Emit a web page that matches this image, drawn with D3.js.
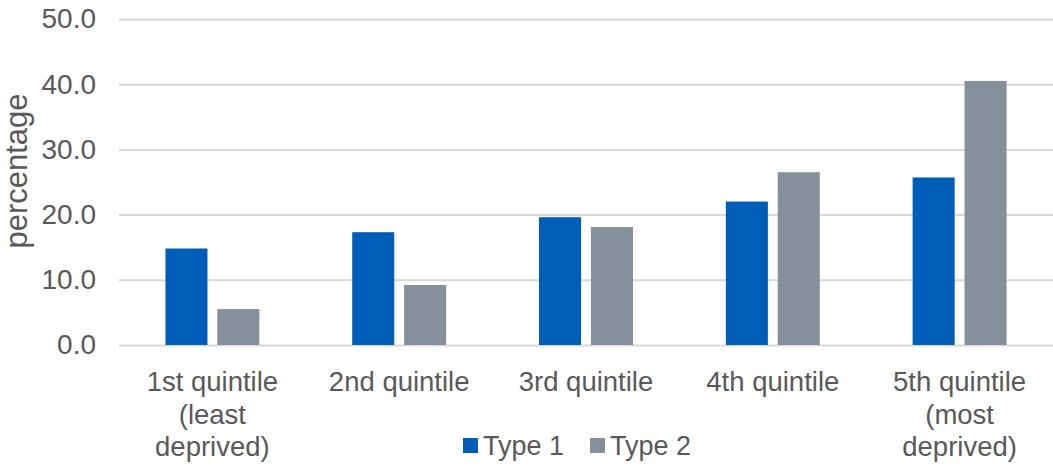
<!DOCTYPE html>
<html>
<head>
<meta charset="utf-8">
<script src="https://cdn.jsdelivr.net/npm/d3@7/dist/d3.min.js"></script>
<style>
  html, body { margin: 0; padding: 0; background: #ffffff; }
  svg { display: block; font-family: "Liberation Sans", Arial, sans-serif; }
</style>
</head>
<body>
<svg id="chart" width="1053" height="469"></svg>
<script>
// Deprivation quintiles (category axis, one line per row of the label)
const categories = [
  ["1st quintile", "(least", "deprived)"],
  ["2nd quintile"],
  ["3rd quintile"],
  ["4th quintile"],
  ["5th quintile", "(most", "deprived)"]
];
const seriesNames = ["Type 1", "Type 2"];
const type1Values = [14.8, 17.3, 19.6, 22.0, 25.7];
const type2Values = [5.5, 9.2, 18.1, 26.5, 40.5];
const yTicks = [0, 10, 20, 30, 40, 50];
const colors = ["#005EB8", "#86909B"];

const svg = d3.select("#chart");
const margin = { left: 119, right: 0, top: 19, bottom: 124 };
const W = 1053, H = 469;
const textColor = "#595959";

const keys = categories.map((c, i) => i);
const x0 = d3.scaleBand().domain(keys).range([margin.left, W - margin.right])
  .paddingInner(0.497).paddingOuter(0.2485);
const x1 = d3.scaleBand().domain(seriesNames).range([0, x0.bandwidth()]).paddingInner(0.19);
const y = d3.scaleLinear().domain([0, 50]).range([H - margin.bottom, margin.top]);

// y axis: gridlines and labels
const yAxis = d3.axisLeft(y).tickValues(yTicks).tickFormat(d3.format(".1f"))
  .tickSize(-(W - margin.left)).tickPadding(23);
const gy = svg.append("g").attr("transform", `translate(${margin.left},0)`).call(yAxis);
gy.select(".domain").remove();
gy.selectAll(".tick line").attr("stroke", "#d9d9d9").attr("stroke-width", 2);
gy.selectAll(".tick text").attr("fill", textColor).attr("font-size", 28)
  .attr("font-family", "Liberation Sans, Arial, sans-serif");

// Axis title
svg.append("text")
  .attr("transform", `translate(27,171) rotate(-90)`)
  .attr("text-anchor", "middle")
  .attr("fill", textColor)
  .attr("font-size", 31)
  .text("percentage");

// Bars
const rows = keys.map(i => ({ i, vals: [type1Values[i], type2Values[i]] }));
const groups = svg.append("g").selectAll("g").data(rows).join("g")
  .attr("transform", d => `translate(${x0(d.i)},0)`);
groups.selectAll("rect")
  .data(d => d.vals.map((v, k) => ({ name: seriesNames[k], v, k })))
  .join("rect")
  .attr("x", d => x1(d.name))
  .attr("width", x1.bandwidth())
  .attr("y", d => y(d.v))
  .attr("height", d => y(0) - y(d.v))
  .attr("fill", d => colors[d.k]);

// Category labels
const lab = svg.append("g");
categories.forEach((lines, i) => {
  const cx = x0(i) + x0.bandwidth() / 2;
  const t = lab.append("text").attr("text-anchor", "middle").attr("fill", textColor)
    .attr("font-size", 27.5);
  lines.forEach((ln, j) => {
    t.append("tspan").attr("x", cx).attr("y", 391 + j * 32.5).text(ln);
  });
});

// Legend
const legendX = [463, 590];
const leg = svg.append("g");
seriesNames.forEach((name, k) => {
  leg.append("rect").attr("x", legendX[k]).attr("y", 438).attr("width", 15).attr("height", 15)
    .attr("fill", colors[k]);
  leg.append("text").attr("x", legendX[k] + 20).attr("y", 455).attr("fill", textColor)
    .attr("font-size", 27).text(name);
});
</script>
</body>
</html>
